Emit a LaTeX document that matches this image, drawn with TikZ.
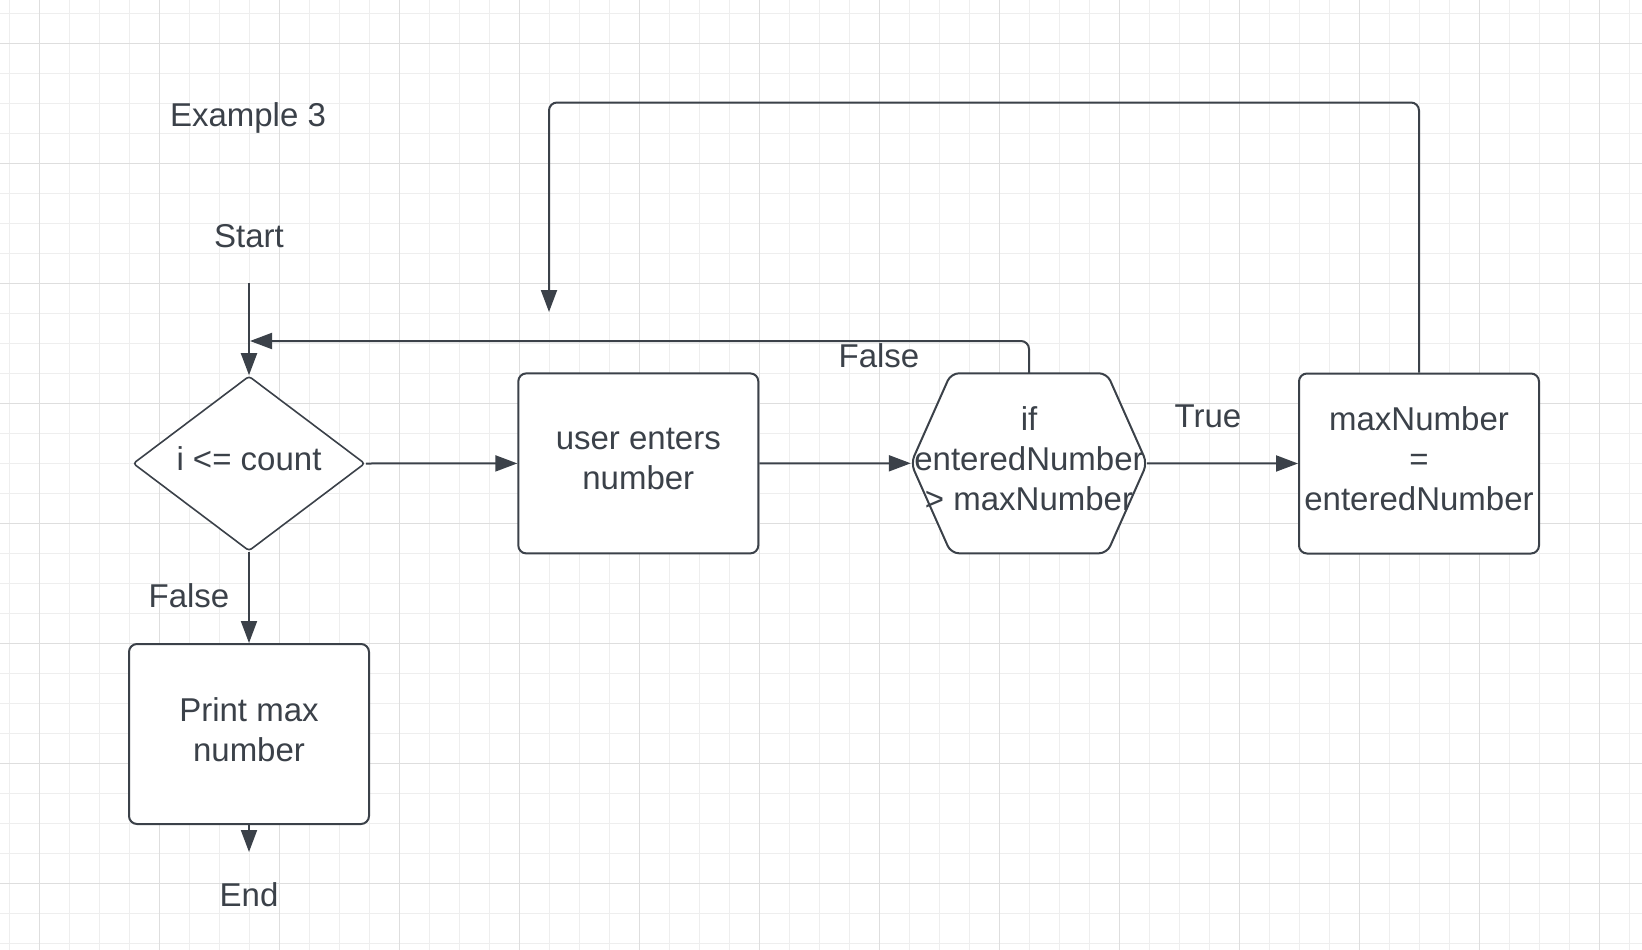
\documentclass[tikz,border=0pt]{standalone}
\usepackage{fontspec}
\setmainfont{Liberation Sans}
\usetikzlibrary{arrows.meta,shapes.geometric}
\definecolor{ink}{HTML}{3B4149}
\definecolor{gridminor}{HTML}{EEEEEE}
\definecolor{gridmajor}{HTML}{DEDEDE}
\begin{document}
\begin{tikzpicture}[x=1pt,y=-1pt,
  every node/.style={font=\fontsize{33}{40}\selectfont, text=ink},
  lbl/.style={inner sep=0pt, align=center},
  box/.style={draw=ink, line width=2pt, rounded corners=8pt, fill=white,
    minimum width=240pt, minimum height=180pt, inner sep=0pt},
  decide/.style={diamond, draw=ink, line width=1.6pt, rounded corners=3pt, fill=white,
    minimum width=232pt, minimum height=175pt, aspect=1.326, inner sep=0pt},
  hexlabel/.style={rectangle, minimum width=236pt, minimum height=180pt, inner sep=0pt},
  hexline/.style={draw=ink, line width=2pt, rounded corners=8pt, fill=white},
  arr/.style={draw=ink, line width=2pt, -{Triangle[length=22pt,width=16pt]}},
  minor/.style={draw=gridminor, line width=1pt},
  major/.style={draw=gridmajor, line width=1.3pt}
]
\fill[white] (0,0) rectangle (1642,950);
\useasboundingbox (0,0) rectangle (1642,950);
% grid
\foreach \i in {0,...,54} { \draw[minor] (9.3+30*\i,0) -- (9.3+30*\i,950); }
\foreach \j in {0,...,31} { \draw[minor] (0,13.3+30*\j) -- (1642,13.3+30*\j); }
\foreach \i in {0,...,13} { \draw[major] (39.3+120*\i,0) -- (39.3+120*\i,950); }
\foreach \j in {0,...,7} { \draw[major] (0,43.3+120*\j) -- (1642,43.3+120*\j); }

% labels
\node[lbl] (ex) at (248,118) {Example 3};
\node[lbl] (start) at (249,236) {Start};
\node[lbl] (endn) at (249,895) {End};
\node[lbl] (f1) at (189,596) {False};
\node[lbl] (f2) at (879,356) {False};
\node[lbl] (tr) at (1208,416) {True};

% shapes
\node[decide] (dia) at (249,463.5) {};
\node[box] (user) at (638.3,463.4) {};
\node[box] (maxb) at (1419,463.5) {};
\node[box] (pmax) at (249,734) {};
\coordinate (hc) at (1029,463.3);
\draw[hexline] ([xshift=-118pt]hc) -- ([xshift=-78pt,yshift=90pt]hc) -- ([xshift=78pt,yshift=90pt]hc)
  -- ([xshift=118pt]hc) -- ([xshift=78pt,yshift=-90pt]hc) -- ([xshift=-78pt,yshift=-90pt]hc) -- cycle;
\node[hexlabel] (hex) at (hc) {};

% texts
\node[lbl] (diaT) at ([yshift=4.5pt]dia.center) {i <= count};
\node[lbl] (userT) at ([yshift=4.5pt]user.center) {user enters\\number};
\node[lbl] (maxbT) at ([yshift=4.5pt]maxb.center) {maxNumber\\=\\enteredNumber};
\node[lbl] (pmaxT) at ([yshift=4.5pt]pmax.center) {Print max\\number};
\node[lbl] (hexT) at ([yshift=4.5pt]hex.center) {if\\enteredNumber\\> maxNumber};

% connector ends
\coordinate (s0) at (249,283);
\coordinate (j) at (250,341);
\coordinate (t1) at (549,312);
\coordinate (e0) at (249,852);

% connectors
\draw[arr] (s0) -- (dia.north);
\draw[arr] (dia.east) -- (user.west);
\draw[arr] (user.east) -- (hex.west);
\draw[arr] (hex.east) -- (maxb.west);
\draw[arr] (dia.south) -- (pmax.north);
\draw[arr] (pmax.south) -- (e0);
\draw[arr, rounded corners=8pt] (hex.north) |- (j);
\draw[arr, rounded corners=8pt] (maxb.north) -- ++(0,-270) -| (t1);
\end{tikzpicture}
\end{document}
